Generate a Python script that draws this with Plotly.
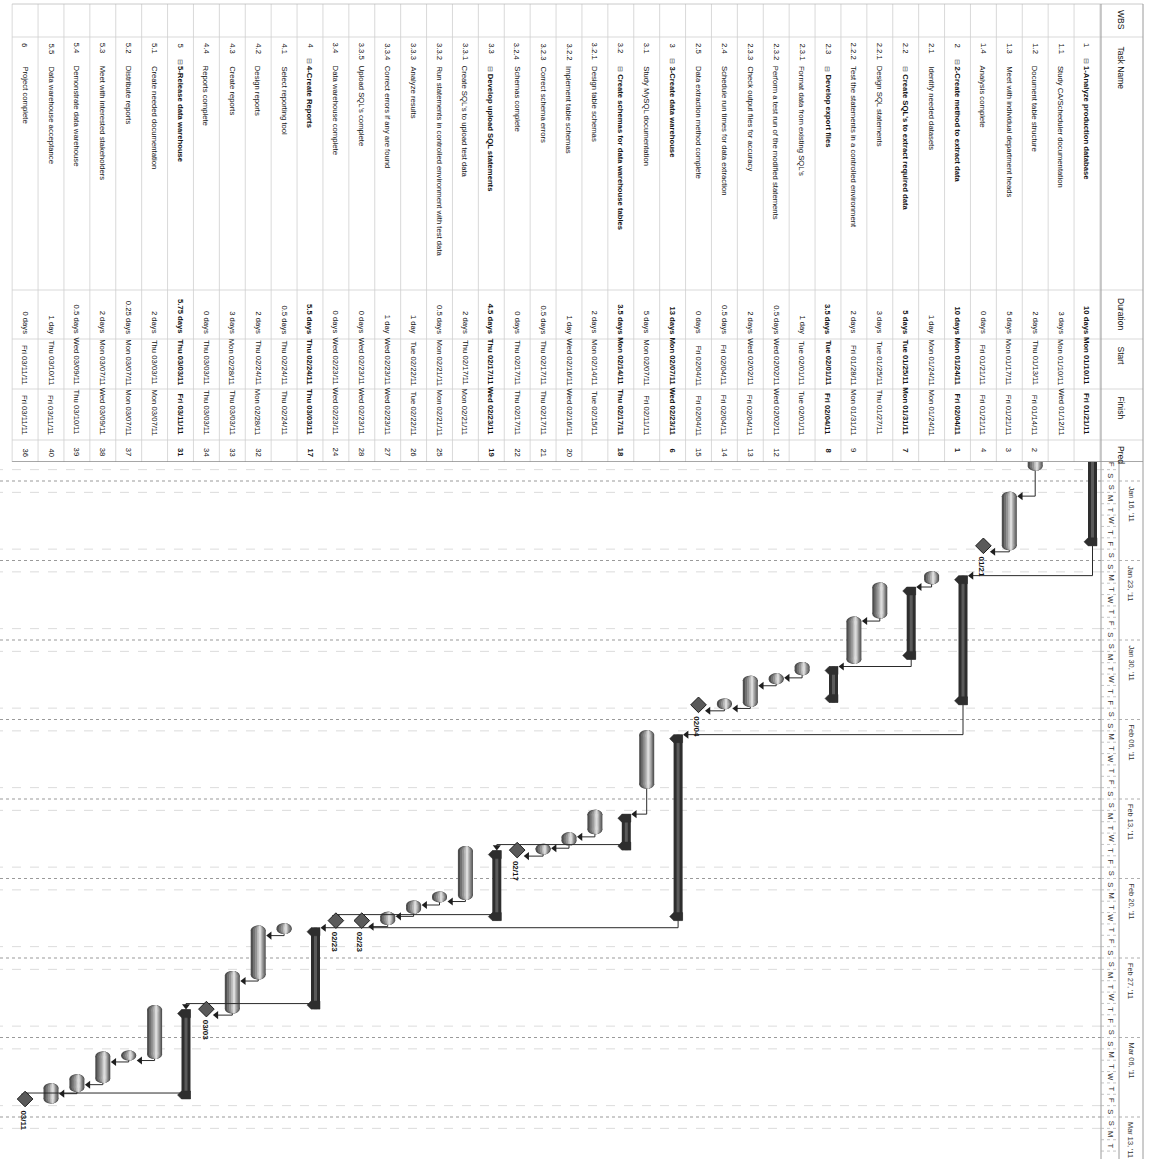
import plotly.graph_objects as go
from datetime import datetime, timedelta

# ---------------- schedule table ----------------
wbs = ["1", "1.1", "1.2", "1.3", "1.4", "2", "2.1", "2.2", "2.2.1", "2.2.2",
       "2.3", "2.3.1", "2.3.2", "2.3.3", "2.4", "2.5", "3", "3.1", "3.2", "3.2.1",
       "3.2.2", "3.2.3", "3.2.4", "3.3", "3.3.1", "3.3.2", "3.3.3", "3.3.4", "3.3.5", "3.4",
       "4", "4.1", "4.2", "4.3", "4.4", "5", "5.1", "5.2", "5.3", "5.4", "5.5", "6"]

task_names = [
    "1-Analyze production database", "Study CA/Scheduler documentation",
    "Document table structure", "Meet with individual department heads",
    "Analysis complete", "2-Create method to extract data", "Identify needed datasets",
    "Create SQL's to extract required data", "Design SQL statements",
    "Test the statements in a controlled environment", "Develop export files",
    "Format data from existing SQL's", "Perform a test run of the modified statements",
    "Check output files for accuracy", "Schedule run times for data extraction",
    "Data extraction method complete", "3-Create data warehouse",
    "Study MySQL documentation", "Create schemas for data warehouse tables",
    "Design table schemas", "Implement table schemas", "Correct schema errors",
    "Schemas complete", "Develop upload SQL statements", "Create SQL's to upload test data",
    "Run statements in controlled environment with test data", "Analyze results",
    "Correct errors if any are found", "Upload SQL's complete", "Data warehouse complete",
    "4-Create Reports", "Select reporting tool", "Design reports", "Create reports",
    "Reports complete", "5-Release data warehouse", "Create needed documentation",
    "Distribute reports", "Meet with interested stakeholders", "Demonstrate data warehouse",
    "Data warehouse acceptance", "Project complete"]

durations = ["10 days", "3 days", "2 days", "5 days", "0 days", "10 days", "1 day", "5 days",
             "3 days", "2 days", "3.5 days", "1 day", "0.5 days", "2 days", "0.5 days", "0 days",
             "13 days", "5 days", "3.5 days", "2 days", "1 day", "0.5 days", "0 days", "4.5 days",
             "2 days", "0.5 days", "1 day", "1 day", "0 days", "0 days", "5.5 days", "0.5 days",
             "2 days", "3 days", "0 days", "5.75 days", "2 days", "0.25 days", "2 days",
             "0.5 days", "1 day", "0 days"]

start_labels = ["Mon 01/10/11", "Mon 01/10/11", "Thu 01/13/11", "Mon 01/17/11", "Fri 01/21/11",
                "Mon 01/24/11", "Mon 01/24/11", "Tue 01/25/11", "Tue 01/25/11", "Fri 01/28/11",
                "Tue 02/01/11", "Tue 02/01/11", "Wed 02/02/11", "Wed 02/02/11", "Fri 02/04/11",
                "Fri 02/04/11", "Mon 02/07/11", "Mon 02/07/11", "Mon 02/14/11", "Mon 02/14/11",
                "Wed 02/16/11", "Thu 02/17/11", "Thu 02/17/11", "Thu 02/17/11", "Thu 02/17/11",
                "Mon 02/21/11", "Tue 02/22/11", "Wed 02/23/11", "Wed 02/23/11", "Wed 02/23/11",
                "Thu 02/24/11", "Thu 02/24/11", "Thu 02/24/11", "Mon 02/28/11", "Thu 03/03/11",
                "Thu 03/03/11", "Thu 03/03/11", "Mon 03/07/11", "Mon 03/07/11", "Wed 03/09/11",
                "Thu 03/10/11", "Fri 03/11/11"]

finish_labels = ["Fri 01/21/11", "Wed 01/12/11", "Fri 01/14/11", "Fri 01/21/11", "Fri 01/21/11",
                 "Fri 02/04/11", "Mon 01/24/11", "Mon 01/31/11", "Thu 01/27/11", "Mon 01/31/11",
                 "Fri 02/04/11", "Tue 02/01/11", "Wed 02/02/11", "Fri 02/04/11", "Fri 02/04/11",
                 "Fri 02/04/11", "Wed 02/23/11", "Fri 02/11/11", "Thu 02/17/11", "Tue 02/15/11",
                 "Wed 02/16/11", "Thu 02/17/11", "Thu 02/17/11", "Wed 02/23/11", "Mon 02/21/11",
                 "Mon 02/21/11", "Tue 02/22/11", "Wed 02/23/11", "Wed 02/23/11", "Wed 02/23/11",
                 "Thu 03/03/11", "Thu 02/24/11", "Mon 02/28/11", "Thu 03/03/11", "Thu 03/03/11",
                 "Fri 03/11/11", "Mon 03/07/11", "Mon 03/07/11", "Wed 03/09/11", "Thu 03/10/11",
                 "Fri 03/11/11", "Fri 03/11/11"]

predecessors = ["", "", "2", "3", "4", "1", "", "7", "", "9", "8", "", "12", "13", "14", "15",
                "6", "", "18", "", "20", "21", "22", "19", "", "25", "26", "27", "28", "24",
                "17", "", "32", "33", "34", "31", "", "37", "38", "39", "40", "36"]

# S = summary, T = task, M = milestone
kinds = ["S", "T", "T", "T", "M", "S", "T", "S", "T", "T", "S", "T", "T", "T", "T", "M",
         "S", "T", "S", "T", "T", "T", "M", "S", "T", "T", "T", "T", "M", "M",
         "S", "T", "T", "T", "M", "S", "T", "T", "T", "T", "T", "M"]

# working-time start / finish (8-12, 13-17 calendar)
start_times = ["2011-01-10 08:00", "2011-01-10 08:00", "2011-01-13 08:00", "2011-01-17 08:00",
               "2011-01-21 17:00", "2011-01-24 08:00", "2011-01-24 08:00", "2011-01-25 08:00",
               "2011-01-25 08:00", "2011-01-28 08:00", "2011-02-01 08:00", "2011-02-01 08:00",
               "2011-02-02 08:00", "2011-02-02 13:00", "2011-02-04 13:00", "2011-02-04 17:00",
               "2011-02-07 08:00", "2011-02-07 08:00", "2011-02-14 08:00", "2011-02-14 08:00",
               "2011-02-16 08:00", "2011-02-17 08:00", "2011-02-17 12:00", "2011-02-17 13:00",
               "2011-02-17 13:00", "2011-02-21 13:00", "2011-02-22 08:00", "2011-02-23 08:00",
               "2011-02-23 17:00", "2011-02-23 17:00", "2011-02-24 08:00", "2011-02-24 08:00",
               "2011-02-24 13:00", "2011-02-28 13:00", "2011-03-03 12:00", "2011-03-03 13:00",
               "2011-03-03 13:00", "2011-03-07 13:00", "2011-03-07 15:00", "2011-03-09 15:00",
               "2011-03-10 10:00", "2011-03-11 10:00"]

finish_times = ["2011-01-21 17:00", "2011-01-12 17:00", "2011-01-14 17:00", "2011-01-21 17:00",
                "2011-01-21 17:00", "2011-02-04 17:00", "2011-01-24 17:00", "2011-01-31 17:00",
                "2011-01-27 17:00", "2011-01-31 17:00", "2011-02-04 12:00", "2011-02-01 17:00",
                "2011-02-02 12:00", "2011-02-04 12:00", "2011-02-04 17:00", "2011-02-04 17:00",
                "2011-02-23 17:00", "2011-02-11 17:00", "2011-02-17 12:00", "2011-02-15 17:00",
                "2011-02-16 17:00", "2011-02-17 12:00", "2011-02-17 12:00", "2011-02-23 17:00",
                "2011-02-21 12:00", "2011-02-21 17:00", "2011-02-22 17:00", "2011-02-23 17:00",
                "2011-02-23 17:00", "2011-02-23 17:00", "2011-03-03 12:00", "2011-02-24 12:00",
                "2011-02-28 12:00", "2011-03-03 12:00", "2011-03-03 12:00", "2011-03-11 10:00",
                "2011-03-07 12:00", "2011-03-07 15:00", "2011-03-09 15:00", "2011-03-10 10:00",
                "2011-03-11 10:00", "2011-03-11 10:00"]

table_headers = ["WBS", "Task Name", "Duration", "Start", "Finish", "Pred"]

# ---------------- page geometry (pixels) ----------------
W, H = 1149, 1159
GANTT_TOP = 462           # table / timescale split
PX_DAY = 79.5 / 7.0       # timescale zoom
SUNDAY0 = datetime(2011, 1, 16)
SUNDAY0_PX = 481.0
ROW0_PX = 1087.0          # centre of first row
ROW_PX = 25.9             # row height
HEAD_IN, HEAD_MID, HEAD_OUT = 1101, 1119, 1143
TABLE_TOP = 4
COL_LINES = [37, 290, 339, 389, 440]

FONT = "Liberation Sans, Arial, sans-serif"
INK = "#141414"
TXT = 7.7


def t_at(px):
    return SUNDAY0 + timedelta(days=(px - SUNDAY0_PX) / PX_DAY)


def dt_px(n):
    return timedelta(days=n / PX_DAY)


def r_at(px):
    return (ROW0_PX - px) / ROW_PX


def dr(n):
    return n / ROW_PX


def iso(t):
    return t.strftime("%Y-%m-%d %H:%M:%S")


starts = [datetime.strptime(s, "%Y-%m-%d %H:%M") for s in start_times]
finishes = [datetime.strptime(s, "%Y-%m-%d %H:%M") for s in finish_times]
n_rows = len(wbs)

shapes = []
annotations = []


def add_rect(x0, x1, y0, y1, fill, yref="y", layer="below", kind="rect"):
    shapes.append(dict(type=kind, xref="x", yref=yref, x0=x0, x1=x1,
                       y0=y0, y1=y1, fillcolor=fill, line=dict(width=0), layer=layer))


def add_line(x0, x1, y0, y1, color, width=1, dash="solid", yref="y", layer="below"):
    shapes.append(dict(type="line", xref="x", yref=yref, x0=x0, x1=x1, y0=y0, y1=y1,
                       line=dict(color=color, width=width, dash=dash), layer=layer))


def rot_text(x, y, text, yref, size=TXT, yanchor="top", color=INK, bold=False):
    annotations.append(dict(x=x, y=y, xref="x", yref=yref, text=("<b>%s</b>" % text) if bold else text,
                            showarrow=False, textangle=90, xanchor="center", yanchor=yanchor,
                            font=dict(family=FONT, size=size, color=color)))


# ---------------- timescale background ----------------
view_top, view_bot = t_at(GANTT_TOP), t_at(H)
r_left = r_at(0)
for w in range(-1, 10):
    sun = SUNDAY0 + timedelta(days=7 * w)
    for day, col, dash, wd in ((sun, "#9a9a9a", "dot", 1.1),
                               (sun - timedelta(days=1), "#dcdcdc", "dash", 1),
                               (sun + timedelta(days=1), "#dcdcdc", "dash", 1)):
        if view_top < day < view_bot:
            add_line(r_at(HEAD_IN), r_left, iso(day), iso(day), col, wd, dash)

# ---------------- table grid ----------------
for k in range(-1, n_rows):
    rb = k + 0.5
    add_line(rb, rb, TABLE_TOP, GANTT_TOP, "#cfcfcf", 0.8, yref="y2")
for c in COL_LINES:
    add_line(n_rows - 0.5, r_at(HEAD_OUT), c, c, "#cfcfcf", 0.8, yref="y2")
add_line(n_rows - 0.5, r_at(HEAD_OUT), TABLE_TOP, TABLE_TOP, "#bdbdbd", 0.8, yref="y2")
add_line(n_rows - 0.5, r_at(HEAD_OUT), GANTT_TOP, GANTT_TOP, "#8a8a8a", 1.6, yref="y2")
add_line(r_at(HEAD_IN), r_at(HEAD_IN), TABLE_TOP, GANTT_TOP, "#9a9a9a", 1, yref="y2")
add_line(r_at(HEAD_OUT), r_at(HEAD_OUT), TABLE_TOP, GANTT_TOP, "#9a9a9a", 1, yref="y2")

# timescale header frame
for px in (HEAD_IN, HEAD_MID, HEAD_OUT):
    add_line(r_at(px), r_at(px), iso(view_top), iso(view_bot), "#9a9a9a", 1)
for d in range(-2, 61):
    day = SUNDAY0 + timedelta(days=d)
    if view_top < day < view_bot:
        add_line(r_at(HEAD_IN), r_at(HEAD_MID), iso(day), iso(day), "#b4b4b4", 0.8, "dot")
        if d % 7 == 0:
            add_line(r_at(HEAD_MID), r_at(HEAD_OUT), iso(day), iso(day), "#9a9a9a", 0.8, "dot")
    centre_px = SUNDAY0_PX + (d + 0.5) * PX_DAY
    if GANTT_TOP + 1 < centre_px < H - 3:
        rot_text(r_at(1111), iso(day + timedelta(hours=12)), "SMTWTFS"[d % 7], "y",
                 size=7.5, yanchor="middle", color="#333333")
    if d % 7 == 0 and SUNDAY0_PX + d * PX_DAY < H - 10:
        rot_text(r_at(1131), iso(day + dt_px(3)), day.strftime("%b %d, '%y"), "y",
                 size=7.4, color="#333333")

# ---------------- table text ----------------
head_r = r_at(1121)
head_pos = [8, 44, 296, 344, 394, 444]
for txt, y in zip(table_headers, head_pos):
    rot_text(head_r, y, txt, "y2", size=8.5)

for i in range(n_rows):
    bold = kinds[i] == "S"
    lvl = wbs[i].count(".")
    rot_text(i, 41, wbs[i], "y2")
    name_y = 64
    if bold:
        box_y = 56 if lvl == 0 else 64
        rot_text(i, box_y, "\u229f", "y2", size=7, color="#555555")
        name_y = box_y + 8
    rot_text(i, name_y, task_names[i], "y2", bold=bold)
    rot_text(i, 336, durations[i], "y2", yanchor="bottom", bold=bold)
    rot_text(i, 387, start_labels[i], "y2", yanchor="bottom", bold=bold)
    rot_text(i, 437, finish_labels[i], "y2", yanchor="bottom", bold=bold)
    if predecessors[i]:
        rot_text(i, 446, predecessors[i], "y2", bold=bold)

# ---------------- bars ----------------
CAP = 4.5                      # rounded end radius (px along time)
CYL = [(7.5, 0.0, "#4e4e4e"), (6.0, 0.6, "#727272"), (4.3, 1.0, "#949494"),
       (2.6, 1.4, "#b9b9b9"), (1.1, 1.6, "#dcdcdc")]
for i in range(n_rows):
    if kinds[i] != "T":
        continue
    t0, t1 = starts[i], finishes[i]
    for half, off, col in CYL:
        xc = i - dr(off)
        x0, x1 = xc - dr(half), xc + dr(half)
        add_rect(x0, x1, iso(t0), iso(t1), col)
        for t in (t0, t1):
            add_rect(x0, x1, iso(t - dt_px(CAP)), iso(t + dt_px(CAP)), col, kind="circle")

# summary bars
SUM_R, SUM_L, SUM_TIP, SUM_CAP = 10, 1, -3, 8
cap_x, cap_y = [], []
for i in range(n_rows):
    if kinds[i] != "S":
        continue
    add_rect(i - dr(SUM_R), i - dr(SUM_L), iso(starts[i]), iso(finishes[i]), "#2e2e2e")
    add_rect(i - dr(7), i - dr(4), iso(starts[i]), iso(finishes[i]), "#5a5a5a")
    for base, sgn in ((starts[i], 1), (finishes[i], -1)):
        pts = [(SUM_R, 0), (SUM_R, SUM_CAP), (SUM_L, SUM_CAP), (SUM_TIP, SUM_CAP / 2), (SUM_L, 0), (SUM_R, 0)]
        for dx, dt in pts:
            cap_x.append(i - dr(dx))
            cap_y.append(iso(base + sgn * dt_px(dt)))
        cap_x.append(None)
        cap_y.append(None)

# ---------------- dependency links ----------------
GAP = 6
link_x, link_y = [], []
arr_l_x, arr_l_y, arr_d_x, arr_d_y = [], [], [], []


def right_edge(i):
    return {"T": 8.0, "S": SUM_R + 0.5, "M": 6.5}[kinds[i]]


for i, p in enumerate(predecessors):
    if not p:
        continue
    j = int(p) - 1
    pf, ss = finishes[j], starts[i]
    if kinds[j] == "S":
        px_off, tail = 5.5, 0
    elif kinds[j] == "M":
        px_off, tail = 0, 6
    else:
        px_off, tail = 0, CAP
    xp = j - dr(px_off)
    if kinds[j] == "S" and ss < pf + dt_px(GAP):
        yh = ss - dt_px(GAP)
        xs = i - dr(5.5 if kinds[i] == "S" else 0)
        link_x += [xp, xs, xs, None]
        link_y += [iso(yh), iso(yh), iso(ss - dt_px(3.5)), None]
        arr_d_x.append(xs)
        arr_d_y.append(iso(ss - dt_px(3.5)))
    else:
        yl = max(ss, pf + dt_px(GAP))
        xe = i - dr(right_edge(i) + 3.5)
        link_x += [xp, xp, xe, None]
        link_y += [iso(pf + dt_px(tail)), iso(yl), iso(yl), None]
        arr_l_x.append(xe)
        arr_l_y.append(iso(yl))

# ---------------- milestones ----------------
ms_x = [i for i in range(n_rows) if kinds[i] == "M"]
ms_y = [iso(finishes[i]) for i in ms_x]
for i in ms_x:
    rot_text(i + dr(1.5), iso(finishes[i] + dt_px(9)), finishes[i].strftime("%m/%d"), "y",
             size=8, bold=True)

fig = go.Figure()
fig.add_trace(go.Scatter(x=link_x, y=link_y, mode="lines", line=dict(color="#2a2a2a", width=1),
                         hoverinfo="skip"))
fig.add_trace(go.Scatter(x=cap_x, y=cap_y, mode="lines", fill="toself", fillcolor="#2e2e2e",
                         line=dict(color="#2e2e2e", width=0.5), hoverinfo="skip"))
fig.add_trace(go.Scatter(x=arr_l_x, y=arr_l_y, mode="markers",
                         marker=dict(symbol="triangle-left", size=7, color="#1e1e1e"), hoverinfo="skip"))
fig.add_trace(go.Scatter(x=arr_d_x, y=arr_d_y, mode="markers",
                         marker=dict(symbol="triangle-down", size=7, color="#1e1e1e"), hoverinfo="skip"))
fig.add_trace(go.Scatter(x=ms_x, y=ms_y, mode="markers",
                         marker=dict(symbol="diamond", size=12, color="#5a5a5a",
                                     line=dict(color="#1e1e1e", width=1)), hoverinfo="skip"))
fig.add_trace(go.Scatter(x=[0], y=[GANTT_TOP / 2], yaxis="y2", mode="markers",
                         marker=dict(size=1, opacity=0), hoverinfo="skip"))

split = (H - GANTT_TOP) / H
fig.update_layout(
    width=W, height=H, margin=dict(l=0, r=0, t=0, b=0),
    paper_bgcolor="white", plot_bgcolor="white", showlegend=False,
    xaxis=dict(range=[r_at(0), r_at(W)], domain=[0, 1], visible=False, anchor="y"),
    yaxis=dict(type="date", range=[iso(view_bot), iso(view_top)], domain=[0, split],
               visible=False, anchor="x"),
    yaxis2=dict(range=[GANTT_TOP, 0], domain=[split, 1], visible=False, anchor="x"),
    shapes=shapes, annotations=annotations,
)
fig.write_html("out.html")
